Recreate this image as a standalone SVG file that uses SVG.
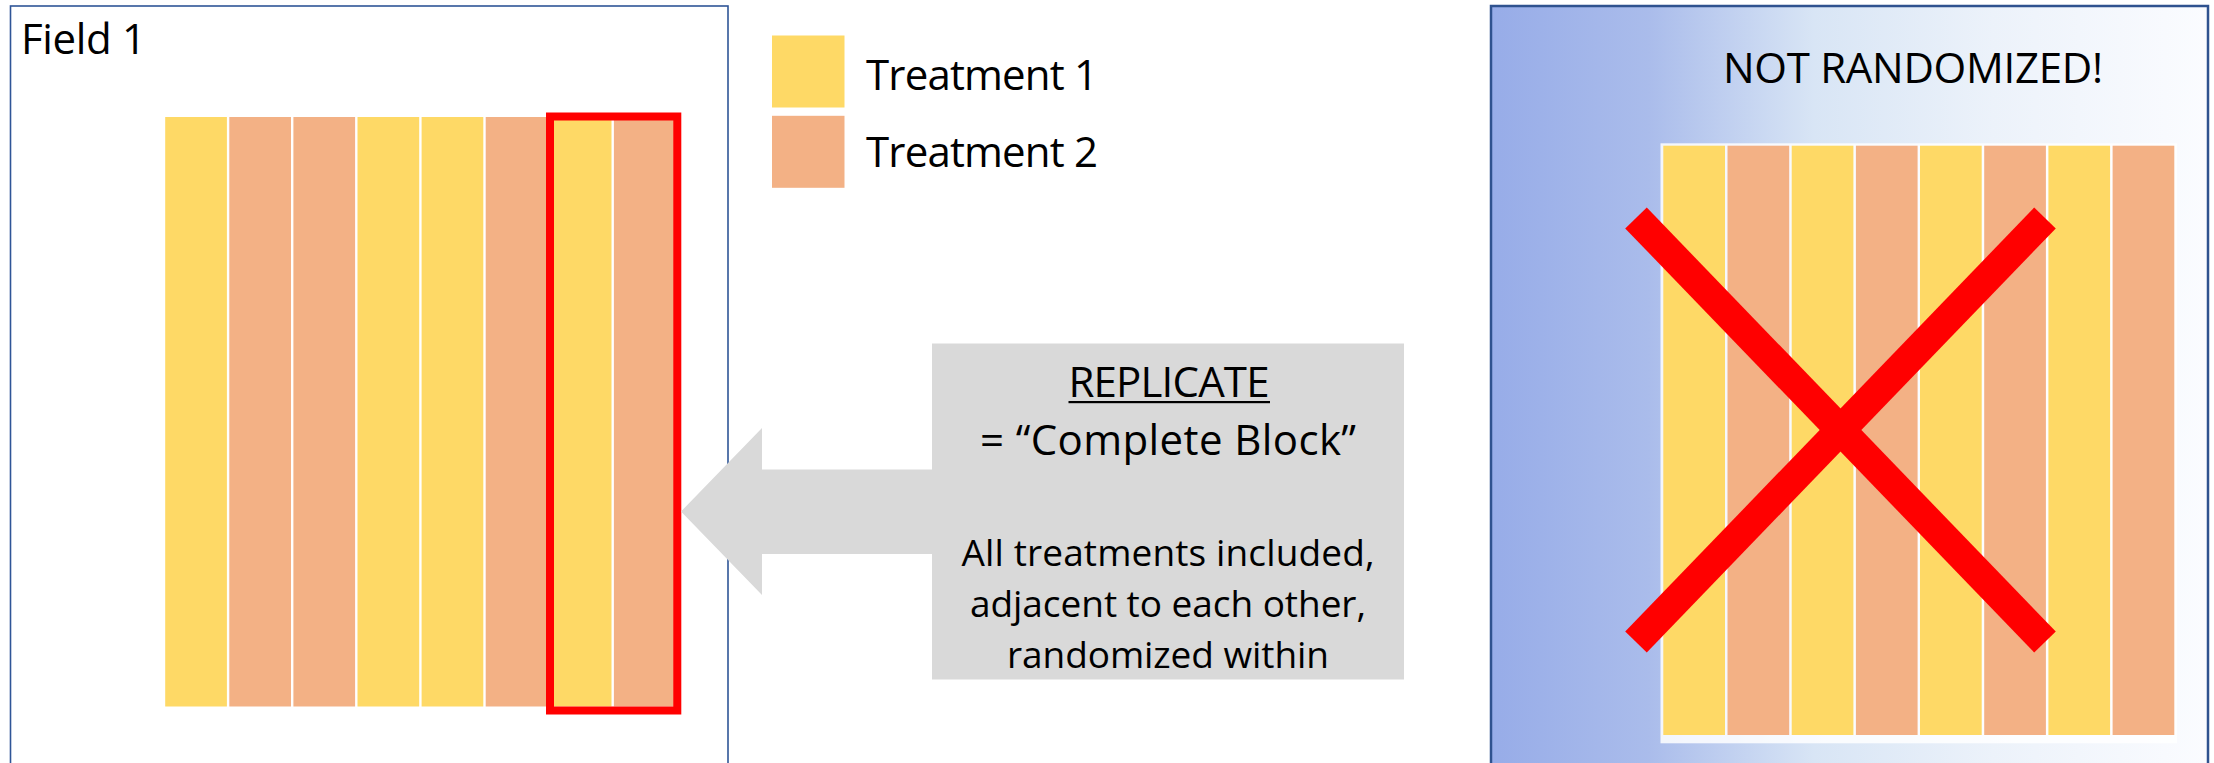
<svg xmlns="http://www.w3.org/2000/svg" width="2214" height="763" viewBox="0 0 2214 763">
<defs>
<linearGradient id="bg" x1="0" y1="0" x2="1" y2="0">
<stop offset="0" stop-color="#97ACE8"/>
<stop offset="0.22" stop-color="#AABCEB"/>
<stop offset="0.45" stop-color="#D8E5F5"/>
<stop offset="0.7" stop-color="#ECF2FA"/>
<stop offset="1" stop-color="#FBFCFF"/>
</linearGradient>
</defs>
<style>
.y{fill:#FED966}
.o{fill:#F3B185}
.t{font-family:"Open Sans","Liberation Sans",sans-serif;fill:#000}
.big{font-size:42px}
.sm{font-size:37px}
.x{stroke:#FF0000;stroke-width:30;stroke-linecap:butt}
</style>
<rect width="2214" height="763" fill="#FFFFFF"/>

<g id="field1">
<rect x="10.5" y="6" width="717.5" height="780" fill="#FFFFFF" stroke="#2F5597" stroke-width="1.6"/>
<text class="t big" x="21" y="53.5" textLength="125">Field 1</text>
<g id="field1-strips">
<rect class="y" x="165.2" y="117" width="61.7" height="589.5"/>
<rect class="o" x="229.3" y="117" width="61.7" height="589.5"/>
<rect class="o" x="293.4" y="117" width="61.7" height="589.5"/>
<rect class="y" x="357.5" y="117" width="61.7" height="589.5"/>
<rect class="y" x="421.6" y="117" width="61.7" height="589.5"/>
<rect class="o" x="485.7" y="117" width="61.7" height="589.5"/>
<rect class="y" x="549.8" y="117" width="61.7" height="589.5"/>
<rect class="o" x="613.9" y="117" width="61.7" height="589.5"/>
</g>
<rect id="replicate-box" x="550" y="116.5" width="127.3" height="594" fill="none" stroke="#FF0000" stroke-width="8"/>
</g>

<g id="legend">
<rect class="y" x="772" y="35.5" width="72.5" height="72"/>
<rect class="o" x="772" y="115.8" width="72.5" height="72"/>
<text class="t big" x="866" y="90" textLength="232">Treatment 1</text>
<text class="t big" x="866" y="167" textLength="232">Treatment 2</text>
</g>

<g id="connectors">
<polygon points="681,511.5 762,428 762,469.5 934,469.5 934,554 762,554 762,595" fill="#D9D9D9"/>
</g>

<g id="replicate-label">
<rect x="932" y="343.5" width="472" height="336" fill="#D9D9D9"/>
<text class="t big" x="1169" y="397" text-anchor="middle" textLength="201">REPLICATE</text>
<rect x="1068.5" y="401" width="201.5" height="2.2" fill="#000"/>
<text class="t big" x="1168" y="455" text-anchor="middle" textLength="376">= “Complete Block”</text>
<text class="t sm" x="1168" y="566" text-anchor="middle" textLength="413">All treatments included,</text>
<text class="t sm" x="1168" y="617" text-anchor="middle" textLength="396">adjacent to each other,</text>
<text class="t sm" x="1168" y="668" text-anchor="middle" textLength="322">randomized within</text>
</g>

<g id="not-randomized">
<rect x="1491" y="6" width="717" height="780" fill="url(#bg)" stroke="#2F528F" stroke-width="2.5"/>
<text class="t big" x="1723" y="83" textLength="380">NOT RANDOMIZED!</text>
<rect x="1660.5" y="143.3" width="516.5" height="600" fill="#FFFFFF" opacity="0.85"/>
<g id="nr-strips">
<rect class="y" x="1663.3" y="145.7" width="61.7" height="589.3"/>
<rect class="o" x="1727.5" y="145.7" width="61.7" height="589.3"/>
<rect class="y" x="1791.7" y="145.7" width="61.7" height="589.3"/>
<rect class="o" x="1855.9" y="145.7" width="61.7" height="589.3"/>
<rect class="y" x="1920.0" y="145.7" width="61.7" height="589.3"/>
<rect class="o" x="1984.2" y="145.7" width="61.7" height="589.3"/>
<rect class="y" x="2048.4" y="145.7" width="61.7" height="589.3"/>
<rect class="o" x="2112.6" y="145.7" width="61.7" height="589.3"/>
</g>
<line class="x" x1="1636" y1="218" x2="2045" y2="642"/>
<line class="x" x1="2045" y1="218" x2="1636" y2="642"/>
</g>
</svg>
